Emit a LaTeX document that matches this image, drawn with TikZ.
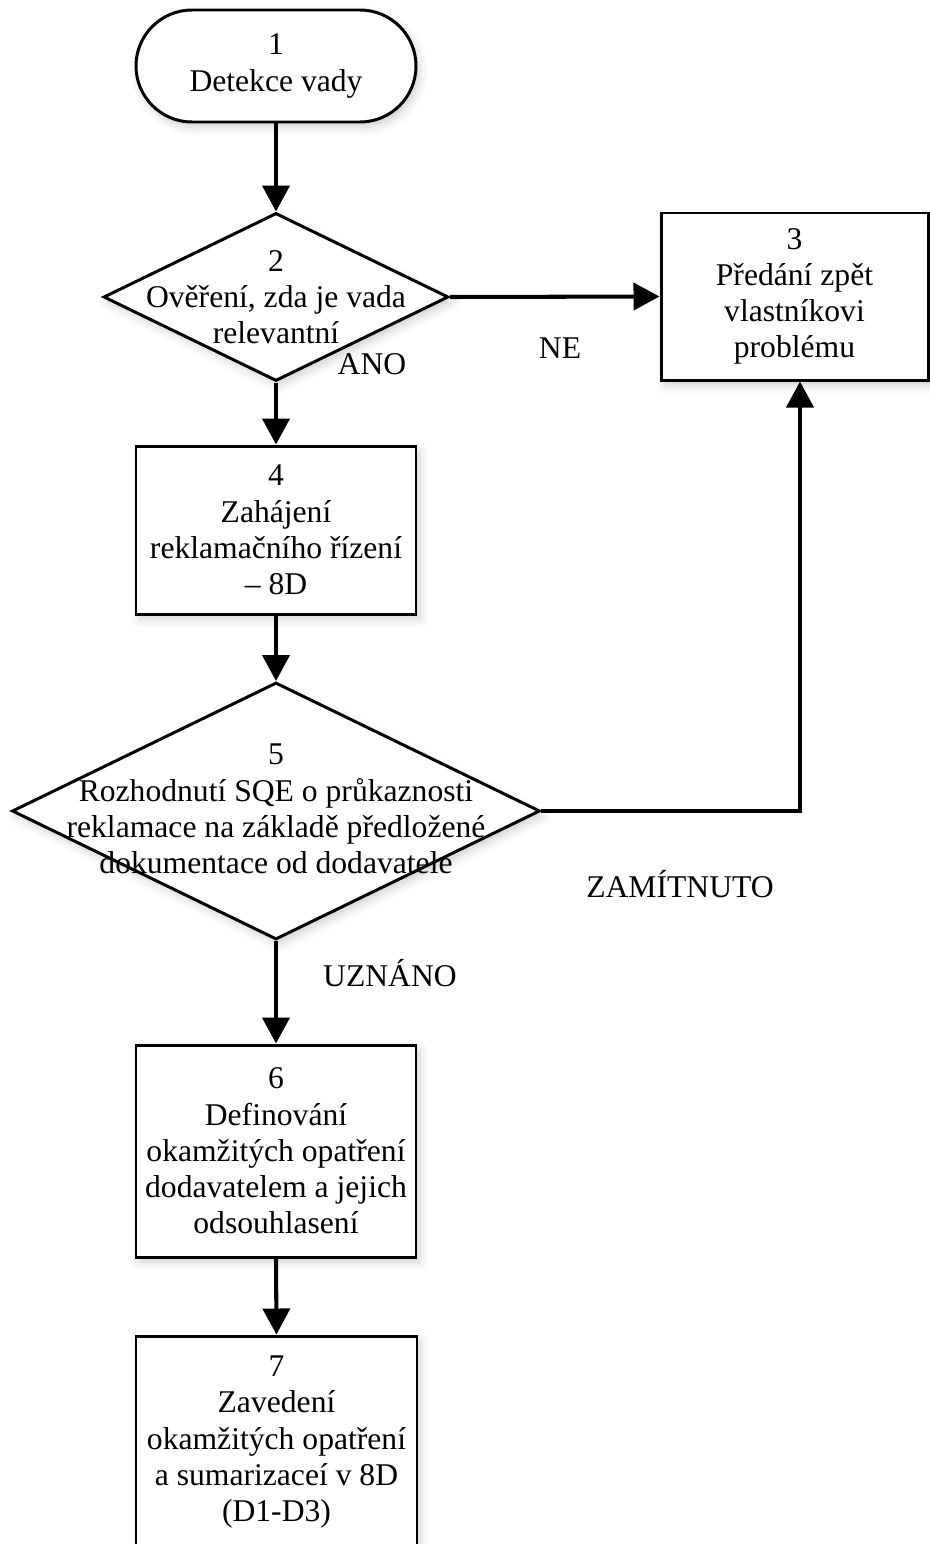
\documentclass[tikz,border=0pt]{standalone}
\usepackage{fontspec}
\setmainfont{Liberation Serif}
\usetikzlibrary{shapes.geometric,arrows.meta,shadows.blur}
\begin{document}
\begin{tikzpicture}[
  every node/.style={font=\fontsize{18}{20.6}\selectfont, align=center, inner sep=0pt},
  softshadow/.style={blur shadow={shadow xshift=2pt,shadow yshift=-3pt,shadow blur radius=5pt,shadow opacity=18}},
  procbox/.style={draw, line width=1.7pt, fill=white, rectangle, softshadow},
  startbox/.style={draw, line width=1.7pt, fill=white, rectangle, rounded corners=1.12cm,
                   minimum width=5.6cm, minimum height=2.24cm, softshadow},
  decision/.style={draw, line width=1.7pt, fill=white, diamond, softshadow},
  flow/.style={line width=2.3pt, -{Triangle[length=0.52cm,width=0.54cm]}}
]
\useasboundingbox (0,0) rectangle (18.6,-30.88);

% steps of the process
\node[startbox] (n1) at (5.52,-1.32) {1\\Detekce vady};
\node[decision, minimum width=6.9cm, minimum height=3.36cm] (n2) at (5.52,-5.94) {};
\node (t2) at (n2) {2\\Ověření, zda je vada\\relevantní};
\node[procbox, minimum width=5.34cm, minimum height=3.34cm] (n3) at (15.89,-5.93)
  {3\\Předání zpět\\vlastníkovi\\problému};
\node[procbox, minimum width=5.6cm, minimum height=3.36cm] (n4) at (5.52,-10.6)
  {4\\Zahájení\\reklamačního řízení\\– 8D};
\node[decision, minimum width=10.56cm, minimum height=5.14cm] (n5) at (5.52,-16.22) {};
\node (t5) at ([yshift=0.04cm]n5) {5\\Rozhodnutí SQE o průkaznosti\\reklamace na základě předložené\\dokumentace od dodavatele};
\node[procbox, minimum width=5.6cm, minimum height=4.24cm] (n6) at (5.52,-23.02)
  {6\\Definování\\okamžitých opatření\\dodavatelem a jejich\\odsouhlasení};
\node[procbox, minimum width=5.62cm, minimum height=4.24cm] (n7) at (5.53,-28.84)
  {7\\Zavedení\\okamžitých opatření\\a sumarizaceí v 8D\\(D1-D3)};

% connectors
\draw[flow] (n1.south) -- (n2.north);
\draw[flow] (n2.east) -- (n3.west);
\draw[flow] (n2.south) -- (n4.north);
\draw[flow] (n4.south) -- (n5.north);
\draw[flow] (n5.south) -- (n6.north);
\draw[flow] (n6.south) -- (n7.north);
\draw[flow] (n5.east) -| ([xshift=0.11cm]n3.south);

% branch labels
\node (ne)  at (11.2,-6.96)  {NE};
\node (ano) at (7.44,-7.28)  {ANO};
\node (zam) at (13.6,-17.68) {ZAMÍTNUTO};
\node (uzn) at (7.8,-19.46)  {UZNÁNO};
\end{tikzpicture}
\end{document}
